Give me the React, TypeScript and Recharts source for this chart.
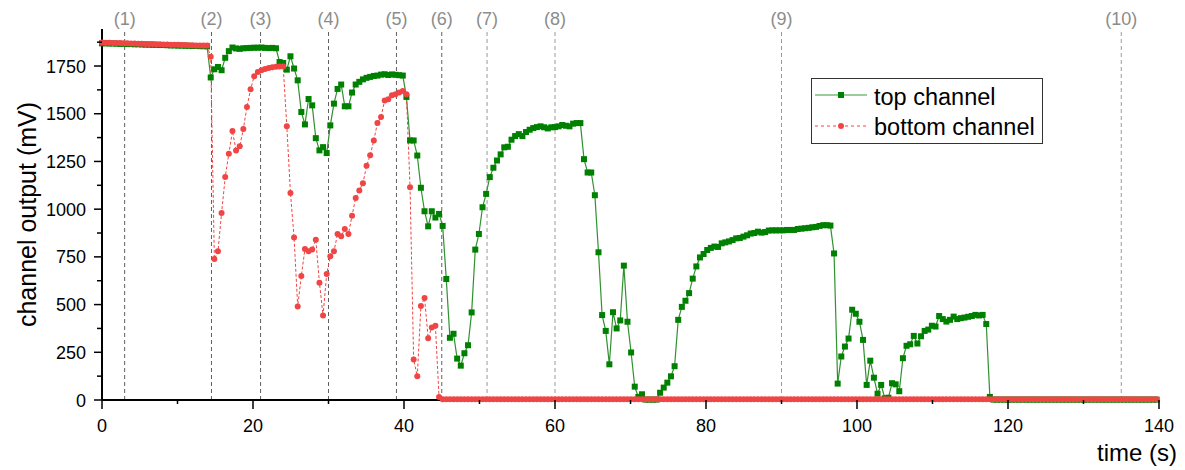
import { Legend, Line, LineChart, ReferenceLine, XAxis, YAxis } from "recharts";

const FONT = '"Liberation Sans", Arial, Helvetica, sans-serif';

// samples are 0.48 s apart, starting at t = 0
const SAMPLE_PERIOD = 0.48;

// top channel (mV), one value per sample
const topChannel = [
  1869, 1869, 1868, 1868, 1867, 1866, 1866, 1865, 1865, 1864, 1864, 1863, 1862, 1862, 1861,
  1861, 1860, 1860, 1859, 1858, 1858, 1857, 1857, 1856, 1856, 1855, 1855, 1854, 1854, 1853,
  // (2) ~14.5 s
  1690, 1733, 1745, 1728, 1793, 1828, 1847, 1842, 1840, 1843, 1844, 1845, 1846, 1846, 1847,
  1845, 1844, 1845, 1843,
  1771, 1766, 1731, 1801, 1737, 1675, 1509, 1444, 1577, 1544, 1372, 1308, 1325, 1294, 1439,
  1553, 1630, 1653, 1539, 1539, 1611, 1653, 1667, 1680, 1688, 1693, 1698, 1700, 1705, 1707,
  1703, 1706, 1704, 1702, 1700,
  // (5) ~40 s
  1588, 1360, 1360, 1281, 1112, 989, 910, 989, 956, 975, 912, 634, 326, 347, 217,
  180, 245, 287, 459, 788, 870, 1010, 1080, 1168, 1217, 1255, 1287, 1324, 1327, 1364,
  1383, 1393, 1383, 1404, 1416, 1425, 1430, 1434, 1429, 1423, 1429, 1430, 1434, 1441, 1437,
  1434, 1448, 1451, 1451, 1262, 1192, 1192, 1073, 774, 445, 362, 187, 460, 375, 417,
  704, 410, 249, 70, 16, 30, 2, 2, 2, 2,
  // recovery ~74 s
  38, 65, 91, 124, 177, 420, 488, 520, 560, 636, 700, 747, 765, 786, 797,
  804, 802, 821, 826, 831, 838, 847, 849, 856, 863, 872, 875, 882, 877, 880,
  888, 889, 889, 889, 889, 891, 891, 891, 896, 898, 900, 902, 905, 907, 912,
  916, 916, 914,
  // drop ~97 s
  768, 86, 228, 280, 322, 473, 452, 410, 315, 79, 206, 117, 33, 79, 9,
  12, 88, 82, 46, 219, 284, 292, 336, 296, 334, 362, 369, 389, 385, 440,
  424, 411, 420, 437, 424, 429, 432, 436, 440, 446, 443, 446, 398, 16,
  // off from ~118 s
  2, 2, 2, 2, 2, 2, 2, 2, 2, 2, 2, 2, 2, 2, 2, 2, 2, 2, 2, 2, 2, 2, 2,
  2, 2, 2, 2, 2, 2, 2, 2, 2, 2, 2, 2, 2, 2, 2, 2, 2, 2, 2, 2, 2, 2, 2,
];

// bottom channel (mV), one value per sample
const bottomChannel = [
  1873, 1872, 1872, 1871, 1871, 1870, 1869, 1869, 1868, 1868, 1867, 1867, 1866, 1865, 1865,
  1864, 1864, 1863, 1863, 1862, 1861, 1861, 1860, 1860, 1859, 1859, 1858, 1858, 1857, 1857,
  1798, 739, 779, 980, 1168, 1290, 1409, 1308, 1330, 1420, 1535, 1628, 1696, 1719, 1728,
  1735, 1740, 1743, 1746, 1748, 1748, 1434, 1085, 852, 490, 650, 791, 779, 789, 840,
  614, 443, 660, 753, 779, 870, 858, 896, 870, 966, 1059, 1098, 1136, 1227, 1282,
  1360, 1451, 1483, 1570, 1576, 1597, 1602, 1611, 1619, 1602, 1115, 212, 124, 492, 534,
  324, 380, 389, 16,
  // off from ~45 s
  4, 4, 4, 4, 4, 4, 4, 4, 4, 4, 4, 4, 4, 4, 4, 4, 4, 4, 4, 4, 4, 4,
  4, 4, 4, 4, 4, 4, 4, 4, 4, 4, 4, 4, 4, 4, 4, 4, 4, 4, 4, 4, 4, 4,
  4, 4, 4, 4, 4, 4, 4, 4, 4, 4, 4, 4, 4, 4, 4, 4, 4, 4, 4, 4, 4, 4,
  4, 4, 4, 4, 4, 4, 4, 4, 4, 4, 4, 4, 4, 4, 4, 4, 4, 4, 4, 4, 4, 4,
  4, 4, 4, 4, 4, 4, 4, 4, 4, 4, 4, 4, 4, 4, 4, 4, 4, 4, 4, 4, 4, 4,
  4, 4, 4, 4, 4, 4, 4, 4, 4, 4, 4, 4, 4, 4, 4, 4, 4, 4, 4, 4, 4, 4,
  4, 4, 4, 4, 4, 4, 4, 4, 4, 4, 4, 4, 4, 4, 4, 4, 4, 4, 4, 4, 4, 4,
  4, 4, 4, 4, 4, 4, 4, 4, 4, 4, 4, 4, 4, 4, 4, 4, 4, 4, 4, 4, 4, 4,
  4, 4, 4, 4, 4, 4, 4, 4, 4, 4, 4, 4, 4, 4, 4, 4, 4, 4, 4, 4, 4, 4,
];

// event markers along the time axis
const eventTimes = [3, 14.5, 21, 30, 39, 45, 51, 60, 90, 135];
const eventLabels = ["(1)", "(2)", "(3)", "(4)", "(5)", "(6)", "(7)", "(8)", "(9)", "(10)"];

const xTicks = [0, 10, 20, 30, 40, 50, 60, 70, 80, 90, 100, 110, 120, 130, 140];
const yTicks = [
  0, 125, 250, 375, 500, 625, 750, 875, 1000, 1125, 1250, 1375, 1500, 1625, 1750, 1875,
];

const data = topChannel.map((top, i) => ({
  t: Math.round(i * SAMPLE_PERIOD * 100) / 100,
  top,
  bottom: bottomChannel[i],
}));

const GREEN = "#008000";
const RED = "#f04545";

function XTick({ x, y, payload }: any) {
  const major = payload.value % 20 === 0;
  return (
    <g>
      <line x1={x} x2={x} y1={y} y2={y + (major ? 9 : 4)} stroke="#000" strokeWidth={1.5} />
      {major && (
        <text x={x} y={y + 32} textAnchor="middle" fontSize={18} fontFamily={FONT} fill="#000">
          {payload.value}
        </text>
      )}
    </g>
  );
}

function YTick({ x, y, payload }: any) {
  const major = payload.value % 250 === 0;
  return (
    <g>
      <line x1={x} x2={x - (major ? 8 : 5)} y1={y} y2={y} stroke="#000" strokeWidth={1.5} />
      {major && (
        <text x={x - 16} y={y + 6.5} textAnchor="end" fontSize={18} fontFamily={FONT} fill="#000">
          {payload.value}
        </text>
      )}
    </g>
  );
}

function SquareDot({ cx, cy, index }: any) {
  if (cx == null || cy == null) return <g key={index} />;
  return <rect key={index} x={cx - 3} y={cy - 3} width={6} height={6} fill={GREEN} />;
}

function ChartLegend() {
  return (
    <svg width={232} height={66} style={{ display: "block" }}>
      <rect x={0.5} y={0.5} width={231} height={65} fill="#fff" stroke="#333" />
      <line x1={4} x2={56} y1={17} y2={17} stroke="#3a9a3a" strokeWidth={1.2} />
      <rect x={27} y={14} width={6} height={6} fill={GREEN} />
      <text x={63} y={27} fontSize={23.5} fontFamily={FONT} fill="#000">
        top channel
      </text>
      <line x1={4} x2={56} y1={48} y2={48} stroke={RED} strokeWidth={1} strokeDasharray="3 3" />
      <circle cx={30} cy={48} r={3} fill={RED} />
      <text x={63} y={57} fontSize={23.5} fontFamily={FONT} fill="#000">
        bottom channel
      </text>
    </svg>
  );
}

export default function App() {
  return (
    <div style={{ position: "absolute", left: 0, top: 0, width: 1185, height: 470, background: "#fff" }}>
      <LineChart
        width={1185}
        height={470}
        data={data}
        margin={{ top: 29, right: 26, left: 0, bottom: 0 }}
      >
        <XAxis
          dataKey="t"
          type="number"
          domain={[0, 140]}
          ticks={xTicks}
          interval={0}
          height={70}
          tickSize={0}
          tickMargin={0}
          tickLine={false}
          tick={<XTick />}
          axisLine={{ stroke: "#000", strokeWidth: 2 }}
          label={(p: any) => {
            const vb = p.viewBox;
            return (
              <text
                x={vb.x + vb.width + 18}
                y={461}
                textAnchor="end"
                fontSize={24}
                fontFamily={FONT}
                fill="#000"
              >
                time (s)
              </text>
            );
          }}
        />
        <YAxis
          type="number"
          domain={[0, 1944]}
          ticks={yTicks}
          interval={0}
          width={102}
          tickSize={0}
          tickMargin={0}
          tickLine={false}
          tick={<YTick />}
          axisLine={{ stroke: "#000", strokeWidth: 2 }}
          label={(p: any) => {
            const vb = p.viewBox;
            const cy = vb.y + vb.height / 2;
            return (
              <text
                x={36}
                y={cy}
                textAnchor="middle"
                fontSize={25}
                fontFamily={FONT}
                fill="#000"
                transform={`rotate(-90, 36, ${cy})`}
              >
                channel output (mV)
              </text>
            );
          }}
        />
        {eventTimes.map((t, i) => (
          <ReferenceLine
            key={eventLabels[i]}
            x={t}
            stroke={i < 6 ? "#606060" : "#9a9a9a"}
            strokeWidth={1}
            strokeDasharray="4 3"
            label={{
              value: eventLabels[i],
              position: "top",
              offset: 4,
              fill: "#8c8c8c",
              fontSize: 18,
              fontFamily: FONT,
            }}
          />
        ))}
        <Line
          type="linear"
          dataKey="top"
          name="top channel"
          stroke="#2f922f"
          strokeWidth={1.2}
          dot={(props: any) => <SquareDot {...props} key={props.index} />}
          activeDot={false}
          isAnimationActive={false}
        />
        <Line
          type="linear"
          dataKey="bottom"
          name="bottom channel"
          stroke={RED}
          strokeWidth={1}
          strokeDasharray="3 2"
          dot={{ r: 3, fill: RED, stroke: "none" }}
          activeDot={false}
          isAnimationActive={false}
        />
        <Legend
          layout="horizontal"
          verticalAlign="middle"
          align="center"
          content={() => <ChartLegend />}
          wrapperStyle={{ left: 811, top: 78, width: 232, height: 66 }}
        />
      </LineChart>
    </div>
  );
}
